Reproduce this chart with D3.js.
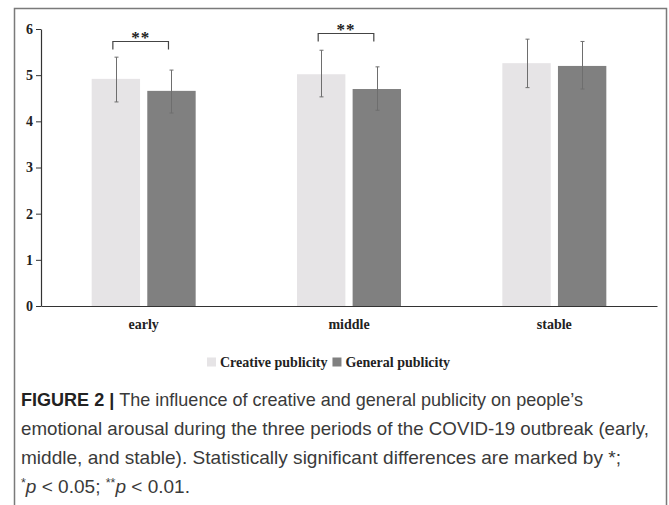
<!DOCTYPE html>
<html>
<head>
<meta charset="utf-8">
<script src="https://cdn.jsdelivr.net/npm/d3@7"></script>
<style>
  html, body { margin: 0; padding: 0; background: #fff; }
  svg { display: block; }
</style>
</head>
<body>
<svg id="fig" width="669" height="505"></svg>
<script>
// Periods of the outbreak and the two publicity conditions
const periods = ["early", "middle", "stable"];
const seriesNames = ["Creative publicity", "General publicity"];
const seriesColors = ["#e6e4e6", "#808080"];

// Mean emotional arousal per period
const creativeMean = [4.92, 5.02, 5.26];
const generalMean  = [4.66, 4.70, 5.20];
// Error bar extents (lower / upper)
const creativeLow  = [4.42, 4.53, 4.73];
const creativeHigh = [5.39, 5.54, 5.78];
const generalLow   = [4.18, 4.24, 4.70];
const generalHigh  = [5.11, 5.18, 5.73];

// Significance markers between the two bars of a period
const sigPeriods = ["early", "middle"];
const sigLabels  = ["**", "**"];
const sigLevels  = [5.74, 5.91];

const yTicks = [0, 1, 2, 3, 4, 5, 6];

const captionLines = [
  [{t: "FIGURE 2 | ", b: true}, {t: "The influence of creative and general publicity on people\u2019s"}],
  [{t: "emotional arousal during the three periods of the COVID-19 outbreak (early,"}],
  [{t: "middle, and stable). Statistically significant differences are marked by *;"}],
  [{t: "*", sup: true}, {t: "p", i: true}, {t: " < 0.05; "}, {t: "**", sup: true}, {t: "p", i: true}, {t: " < 0.01."}]
];
// Set width of each caption line
const captionWidths = [562, 628, 600, 169];

const svg = d3.select("#fig");

// Outer frame (open at the bottom)
svg.append("path")
  .attr("d", "M14.5,505 V8.5 H666.5 V505")
  .attr("fill", "none")
  .attr("stroke", "#7a7a7a")
  .attr("stroke-width", 1.5);

const plot = {left: 41, right: 657, top: 29, bottom: 306};

const x = d3.scaleBand().domain(periods).range([plot.left, plot.right]);
const y = d3.scaleLinear().domain([0, 6]).range([plot.bottom, plot.top]);
const sub = d3.scaleBand().domain(seriesNames).range([-52, 52]).paddingInner(0.13);

const serif = "'Liberation Serif', 'Times New Roman', serif";

// Bars
const rows = [];
periods.forEach((p, i) => {
  rows.push({p, s: seriesNames[0], v: creativeMean[i], lo: creativeLow[i], hi: creativeHigh[i], c: seriesColors[0]});
  rows.push({p, s: seriesNames[1], v: generalMean[i],  lo: generalLow[i],  hi: generalHigh[i],  c: seriesColors[1]});
});
const cx = d => x(d.p) + x.bandwidth() / 2 + sub(d.s);

svg.append("g").selectAll("rect").data(rows).join("rect")
  .attr("x", d => cx(d))
  .attr("width", sub.bandwidth())
  .attr("y", d => y(d.v))
  .attr("height", d => y(0) - y(d.v))
  .attr("fill", d => d.c);

// Error bars
const eb = svg.append("g").attr("stroke", "#6e6e6e").attr("stroke-width", 1);
rows.forEach(d => {
  const mx = Math.round(cx(d) + sub.bandwidth() / 2) + 0.5;
  eb.append("line").attr("x1", mx).attr("x2", mx).attr("y1", y(d.hi)).attr("y2", y(d.lo));
  eb.append("line").attr("x1", mx - 2).attr("x2", mx + 2).attr("y1", y(d.hi)).attr("y2", y(d.hi));
  eb.append("line").attr("x1", mx - 2).attr("x2", mx + 2).attr("y1", y(d.lo)).attr("y2", y(d.lo));
});

// Y axis
const yAxis = svg.append("g")
  .attr("transform", `translate(${plot.left},0)`)
  .call(d3.axisLeft(y).tickValues(yTicks).tickFormat(d3.format("d")).tickSize(5).tickSizeOuter(0));
yAxis.select(".domain").attr("stroke", "#333").attr("stroke-width", 1.2);
yAxis.selectAll(".tick line").attr("stroke", "#333");
yAxis.selectAll(".tick text")
  .attr("font-family", serif).attr("font-weight", "bold").attr("font-size", 14)
  .attr("fill", "#222").attr("x", -8);

// X axis
const xAxis = svg.append("g")
  .attr("transform", `translate(0,${plot.bottom})`)
  .call(d3.axisBottom(x).tickSize(0).tickSizeOuter(0).tickPadding(13));
xAxis.select(".domain").attr("stroke", "#333").attr("stroke-width", 1.2);
xAxis.selectAll(".tick text")
  .attr("font-family", serif).attr("font-weight", "bold").attr("font-size", 14)
  .attr("fill", "#222");

// Significance brackets
sigPeriods.forEach((p, i) => {
  const x0 = x(p) + x.bandwidth() / 2 + sub(seriesNames[0]) + sub.bandwidth() / 2 - 3;
  const x1 = x(p) + x.bandwidth() / 2 + sub(seriesNames[1]) + sub.bandwidth() / 2 - 3;
  const yy = Math.round(y(sigLevels[i])) + 0.5;
  svg.append("path")
    .attr("d", `M${x0},${yy + 8} V${yy} H${x1} V${yy + 8}`)
    .attr("fill", "none").attr("stroke", "#444").attr("stroke-width", 1.2);
  svg.append("text")
    .attr("x", (x0 + x1) / 2).attr("y", yy + 1)
    .attr("text-anchor", "middle")
    .attr("font-family", serif).attr("font-weight", "bold").attr("font-size", 17)
    .attr("fill", "#222").attr("letter-spacing", 1)
    .text(sigLabels[i]);
});

// Legend
const legend = svg.append("g").attr("transform", "translate(207,362)");
let lx = 0;
seriesNames.forEach((name, i) => {
  legend.append("rect").attr("x", lx).attr("y", -4.5).attr("width", 9).attr("height", 9).attr("fill", seriesColors[i]);
  const t = legend.append("text")
    .attr("x", lx + 13).attr("y", 4.5)
    .attr("font-family", serif).attr("font-weight", "bold").attr("font-size", 14)
    .attr("fill", "#222").text(name);
  lx += 13 + t.node().getComputedTextLength() + 5;
});

// Caption, one text element per line
captionLines.forEach((line, li) => {
  const row = svg.append("text")
    .attr("x", 21).attr("y", 406 + li * 29)
    .attr("font-family", "'Liberation Sans', Arial, sans-serif")
    .attr("font-size", 18.4).attr("fill", "#3a3a3a")
    .attr("textLength", captionWidths[li])
    .attr("lengthAdjust", "spacingAndGlyphs");
  line.forEach((seg, si) => {
    const ts = row.append("tspan").text(seg.t);
    if (seg.b) ts.attr("font-weight", "bold").attr("fill", "#222");
    if (seg.i) ts.attr("font-style", "italic");
    if (seg.sup) ts.attr("font-size", 12).attr("dy", -6);
    const prev = line[si - 1];
    if (prev && prev.sup && !seg.sup) ts.attr("dy", 6);
  });
});
</script>
</body>
</html>
